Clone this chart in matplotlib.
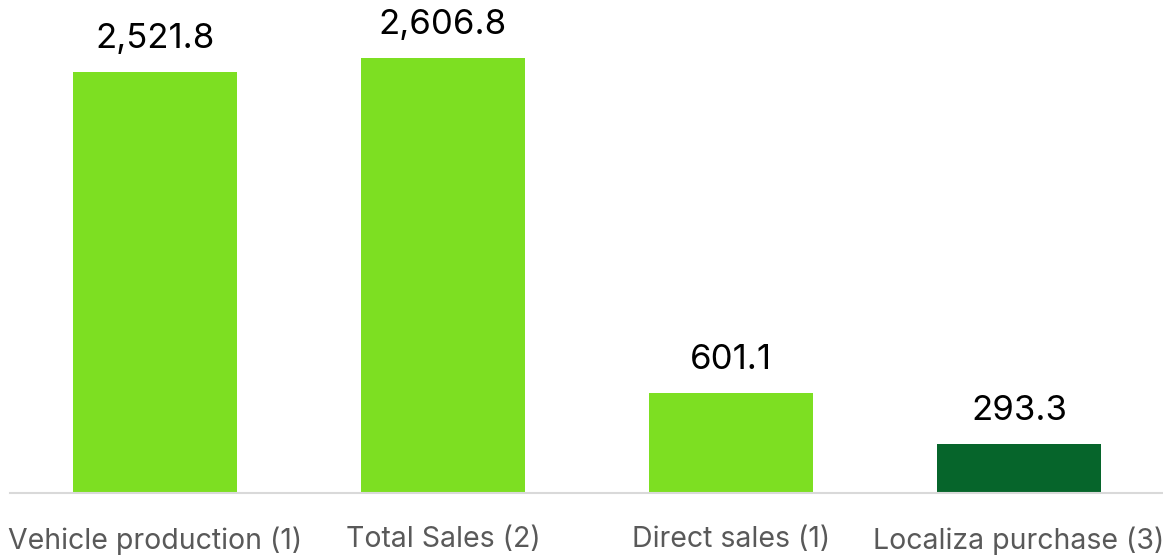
import matplotlib
matplotlib.use('Agg')
import matplotlib.pyplot as plt

categories = ['Vehicle production (1)', 'Total Sales (2)', 'Direct sales (1)', 'Localiza purchase (3)']
values = [2521.8, 2606.8, 601.1, 293.3]
labels = ['2,521.8', '2,606.8', '601.1', '293.3']
colors = ['#7DDF22', '#7DDF22', '#7DDF22', '#06652B']

plt.rcParams['font.family'] = ['Inter', 'DejaVu Sans']

fig = plt.figure(figsize=(11.63, 5.58), dpi=100)
ax = fig.add_axes([10 / 1163, 65 / 558, 1153 / 1163, 493 / 558])

x = list(range(len(values)))
bars = ax.bar(x, values, width=0.57, color=colors)

for b, txt in zip(bars, labels):
    ax.annotate(txt, (b.get_x() + b.get_width() / 2, b.get_height()),
                xytext=(0, 12), textcoords='offset points',
                ha='center', va='bottom', fontsize=25, color='black')

ax.set_xlim(-0.503, 3.5)
ax.set_ylim(0, 2954)
ax.set_xticks(x)
ax.set_xticklabels(categories, fontsize=20.5, color='#595959')
ax.tick_params(axis='x', length=0, pad=24)
ax.set_yticks([])

for s in ['top', 'right', 'left']:
    ax.spines[s].set_visible(False)
ax.spines['bottom'].set_color('#D9D9D9')
ax.spines['bottom'].set_linewidth(1.5)

fig.savefig('out.png', dpi=100)
